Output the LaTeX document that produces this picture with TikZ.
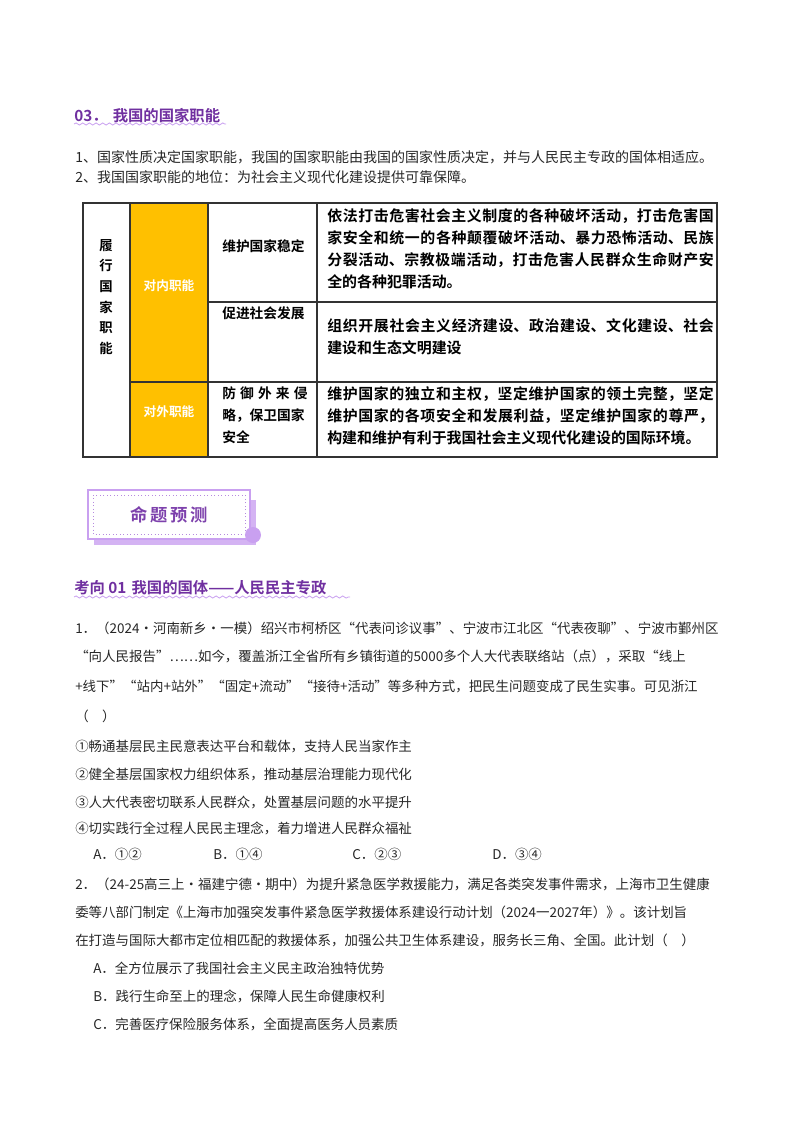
\documentclass[tikz,border=0pt]{standalone}
\usepackage{fontspec}
\setmainfont{Noto Sans CJK SC}
\newfontfamily\cjkb{Noto Sans CJK SC Bold}
\XeTeXlinebreaklocale "zh"
\XeTeXlinebreakskip=0pt plus 2pt
\usetikzlibrary{decorations.pathmorphing}
\definecolor{purp}{HTML}{7030A0}
\definecolor{lpurp}{HTML}{C9A0F0}
\definecolor{gold}{HTML}{FFC000}
\tikzset{
 body/.style={anchor=west,inner sep=0,font=\fontsize{10.1}{12}\selectfont,text=black!85},
 cell/.style={anchor=north west,inner sep=0,font=\cjkb\fontsize{10.3}{16.5}\selectfont,align=justify},
 rcell/.style={cell,text width=290pt,font=\cjkb\fontsize{11.2}{16.5}\selectfont},
 wav/.style={draw=lpurp,line width=0.6pt,decorate,decoration={snake,amplitude=0.8pt,segment length=5pt}},
 head/.style={anchor=west,inner sep=0,text=purp,font=\cjkb\fontsize{11.5}{13}\selectfont}
}
\begin{document}
\begin{tikzpicture}[x=0.75pt,y=-0.75pt]
\useasboundingbox (0,0) rectangle (800,1132);
% heading
\node[head] (h1) at (74,116) {03．\,\,我国的国家职能};
\draw[wav] (74,124) -- (226,124);
\node[body,font=\fontsize{10.5}{12}\selectfont] (l1) at (75,157) {1、国家性质决定国家职能，我国的国家职能由我国的国家性质决定，并与人民民主专政的国体相适应。};
\node[body,font=\fontsize{10.5}{12}\selectfont] (l2) at (75,177) {2、我国国家职能的地位：为社会主义现代化建设提供可靠保障。};
% table
\fill[gold] (130,203) rectangle (208,457);
\draw[line width=0.8pt,black!80] (83,203) rectangle (717,457);
\draw[line width=0.8pt,black!80] (130,203)--(130,457) (208,203)--(208,457) (317,203)--(317,457)
  (208,302)--(717,302) (130,382)--(717,382);
\node[cell,anchor=center,text width=12pt,align=center,font=\cjkb\fontsize{10}{15.5}\selectfont] (c0) at (106,297) {履\\行\\国\\家\\职\\能};
\node[anchor=center,text=white,font=\cjkb\fontsize{9.5}{12}\selectfont] (c1) at (169,286) {对内职能};
\node[anchor=center,text=white,font=\cjkb\fontsize{9.5}{12}\selectfont] (c2) at (169,412) {对外职能};
\node[cell,anchor=west] (a1) at (222,246) {维护国家稳定};
\node[cell] (a2) at (222,306) {促进社会发展};
\node[cell,text width=64pt] (a3) at (222,386) {防\hfill 御\hfill 外\hfill 来\hfill 侵\\略，保卫国家\\安全};
\node[rcell] (b1) at (327,208) {依法打击危害社会主义制度的各种破坏活动，打击危害国家安全和统一的各种颠覆破坏活动、暴力恐怖活动、民族分裂活动、宗教极端活动，打击危害人民群众生命财产安全的各种犯罪活动。};
\node[rcell] (b2) at (327,318) {组织开展社会主义经济建设、政治建设、文化建设、社会建设和生态文明建设};
\node[rcell] (b3) at (327,386) {维护国家的独立和主权，坚定维护国家的领土完整，坚定维护国家的各项安全和发展利益，坚定维护国家的尊严，构建和维护有利于我国社会主义现代化建设的国际环境。};
% banner
\fill[lpurp!80] (94,500) rectangle (256,545);
\fill[white] (88,490) rectangle (250,539);
\draw[lpurp,line width=0.8pt] (88,490) rectangle (250,539);
\draw[lpurp!80!purp,dotted,line width=0.6pt] (93,495) rectangle (245,534);
\fill[lpurp] (253,535) circle (8);
\node[anchor=center,text=purp!85!lpurp,font=\cjkb\fontsize{13}{14}\selectfont] (bn) at (169,515) {命\,题\,预\,测};
\node[head] (h2) at (74,588) {考向 01\,\,我国的国体——人民民主专政};
\draw[wav] (74,597) -- (350,597);
% question 1
\node[body] (q1) at (75,628) {1．（2024·河南新乡·一模）绍兴市柯桥区“代表问诊议事”、宁波市江北区“代表夜聊”、宁波市鄞州区};
\node[body] (q2) at (75,656) {“向人民报告”……如今，覆盖浙江全省所有乡镇街道的5000多个人大代表联络站（点），采取“线上};
\node[body] (q3) at (75,686) {+线下”“站内+站外”“固定+流动”“接待+活动”等多种方式，把民生问题变成了民生实事。可见浙江};
\node[body] (q4) at (75,716) {（\quad ）};
\node[body] (q5) at (75,746) {①畅通基层民主民意表达平台和载体，支持人民当家作主};
\node[body] (q6) at (75,774) {②健全基层国家权力组织体系，推动基层治理能力现代化};
\node[body] (q7) at (75,802) {③人大代表密切联系人民群众，处置基层问题的水平提升};
\node[body] (q8) at (75,828) {④切实践行全过程人民民主理念，着力增进人民群众福祉};
\node[body] (oA) at (93,854) {A．①②};
\node[body] (oB) at (213,854) {B．①④};
\node[body] (oC) at (352,854) {C．②③};
\node[body] (oD) at (492,854) {D．③④};
% question 2
\node[body] (r1) at (75,884) {2．（24-25高三上·福建宁德·期中）为提升紧急医学救援能力，满足各类突发事件需求，上海市卫生健康};
\node[body] (r2) at (75,912) {委等八部门制定《上海市加强突发事件紧急医学救援体系建设行动计划（2024一2027年）》。该计划旨};
\node[body] (r3) at (75,940) {在打造与国际大都市定位相匹配的救援体系，加强公共卫生体系建设，服务长三角、全国。此计划（\quad ）};
\node[body] (r4) at (93,968) {A．全方位展示了我国社会主义民主政治独特优势};
\node[body] (r5) at (93,996) {B．践行生命至上的理念，保障人民生命健康权利};
\node[body] (r6) at (93,1024) {C．完善医疗保险服务体系，全面提高医务人员素质};
\end{tikzpicture}
\end{document}
